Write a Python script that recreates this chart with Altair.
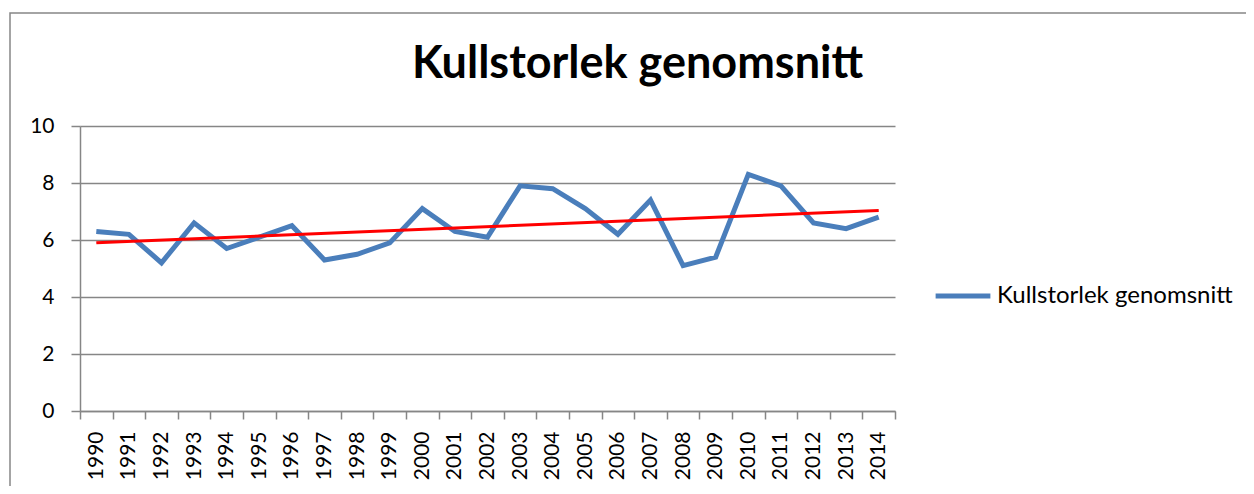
import altair as alt
import pandas as pd

years = ["1990", "1991", "1992", "1993", "1994", "1995", "1996", "1997", "1998", "1999",
         "2000", "2001", "2002", "2003", "2004", "2005", "2006", "2007", "2008", "2009",
         "2010", "2011", "2012", "2013", "2014"]
values = [6.3, 6.2, 5.2, 6.6, 5.7, 6.1, 6.5, 5.3, 5.5, 5.9,
          7.1, 6.3, 6.1, 7.9, 7.8, 7.1, 6.2, 7.4, 5.1, 5.4,
          8.3, 7.9, 6.6, 6.4, 6.8]
series_name = "Kullstorlek genomsnitt"
y_ticks = [0, 2, 4, 6, 8, 10]

df = pd.DataFrame({
    "Year": years,
    "yr": [int(y) for y in years],
    "value": values,
    "series": [series_name] * len(years),
})

FONT = "Lato"
GREY = "#868686"

x_enc = alt.X(
    "Year:O",
    title=None,
    sort=years,
    scale=alt.Scale(type="band", paddingInner=0, paddingOuter=0),
    axis=alt.Axis(
        labelAngle=270, labelFontSize=21, labelFont=FONT, labelColor="#000000",
        tickBand="extent", tickSize=8, tickColor=GREY, tickWidth=1.5,
        domainColor=GREY, domainWidth=1.5, grid=False, labelPadding=12,
    ),
)
y_enc = alt.Y(
    "value:Q",
    title=None,
    scale=alt.Scale(domain=[0, 10], nice=False),
    axis=alt.Axis(
        values=y_ticks, labelFontSize=21, labelFont=FONT, labelColor="#000000",
        tickSize=9, tickColor=GREY, tickWidth=1.5, domainColor=GREY, domainWidth=1.5,
        gridColor=GREY, gridWidth=1.5, labelPadding=17,
    ),
)

line = alt.Chart(df).mark_line(strokeWidth=5).encode(
    x=x_enc,
    y=y_enc,
    color=alt.Color(
        "series:N",
        scale=alt.Scale(range=["#4A7EBB"]),
        legend=alt.Legend(
            title=None, orient="none", legendX=853, legendY=140,
            symbolType="stroke", symbolStrokeWidth=5, symbolSize=3000,
            labelFontSize=24, labelFont=FONT, labelColor="#000000",
            labelOffset=4, labelLimit=400,
        ),
    ),
)

trend = alt.Chart(df).transform_regression("yr", "value").transform_calculate(
    Year="toString(datum.yr)"
).mark_line(color="#FF0000", strokeWidth=3).encode(
    x=alt.X("Year:O", sort=years),
    y="value:Q",
)

border = alt.Chart(alt.Data(values=[{}])).mark_rect(
    fill=None, stroke=GREY, strokeWidth=1.5
).encode(
    x=alt.value(-70), x2=alt.value(1200), y=alt.value(-113), y2=alt.value(420)
)

chart = alt.layer(border, line, trend).properties(
    width=815,
    height=285,
    autosize=alt.AutoSizeParams(type="none"),
    padding={"left": 72, "top": 118, "right": 351, "bottom": 75},
    title=alt.TitleParams(
        text="Kullstorlek genomsnitt", fontSize=45, font=FONT, fontWeight="bold",
        color="#000000", anchor="middle", frame="group", offset=28, dx=150, dy=103,
    ),
).configure_view(stroke=None)

chart.save("out.html", embed_options={"renderer": "svg", "actions": False})
